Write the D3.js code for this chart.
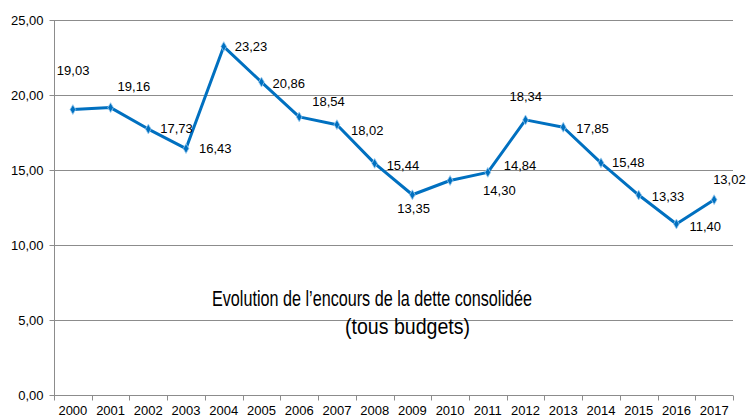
<!DOCTYPE html>
<html>
<head>
<meta charset="utf-8">
<script src="https://cdn.jsdelivr.net/npm/d3@7"></script>
<style>
  body { margin: 0; background: #fff; }
  svg text { font-family: "Liberation Sans", Arial, sans-serif; fill: #000; }
</style>
</head>
<body>
<div id="plotspace"></div>
<script>
var years = ["2000", "2001", "2002", "2003", "2004", "2005", "2006", "2007", "2008",
             "2009", "2010", "2011", "2012", "2013", "2014", "2015", "2016", "2017"];
var encours = [19.03, 19.16, 17.73, 16.43, 23.23, 20.86, 18.54, 18.02, 15.44,
               13.35, 14.30, 14.84, 18.34, 17.85, 15.48, 13.33, 11.40, 13.02];
var yTicks = [0, 5, 10, 15, 20, 25];
var titleLines = ["Evolution de l\u2019encours de la dette consolidée", "(tous budgets)"];

// label placement as set by hand in the original chart (dx from point to label start, dy to label middle)
var labelShift = [[-16, -39], [7, -21], [12, -1], [13, 0], [11, 0], [11, 1], [13, -15], [14, 6], [12, 2],
                  [-15, 14], [33, 10], [16, -7], [-16, -23], [13, 1], [11, 0], [13, 1], [13, 2], [-1, -20]];

var width = 746, height = 418;
var plotL = 54, plotR = 733, plotT = 20, plotB = 395;
var blue = "#0070c0";
var grey = "#8c8c8c";

var fr = d3.formatLocale({decimal: ",", thousands: " ", grouping: [3], currency: ["", " €"]});
var fmt = fr.format(".2f");

var svg = d3.select("#plotspace").append("svg")
    .attr("width", width).attr("height", height);

var x = d3.scaleBand().domain(years).range([plotL, plotR]);
var y = d3.scaleLinear().domain([0, 25]).range([plotB, plotT]);

// grid
svg.append("g").selectAll("line")
    .data(yTicks.slice(1))
    .enter().append("line")
    .attr("x1", plotL).attr("x2", plotR)
    .attr("y1", function(d) { return Math.round(y(d)) + 0.5; })
    .attr("y2", function(d) { return Math.round(y(d)) + 0.5; })
    .attr("stroke", grey).attr("stroke-width", 1);

// y axis
var yAxis = d3.axisLeft(y).tickValues(yTicks).tickSize(5).tickPadding(6).tickFormat(fmt);
var gy = svg.append("g").attr("transform", "translate(" + (plotL + 0.5) + ",0)").call(yAxis);
gy.select(".domain").attr("stroke", grey).attr("d", "M0," + plotT + "V" + plotB);
gy.selectAll(".tick line").attr("stroke", grey);
gy.selectAll(".tick text").attr("font-size", 13).attr("font-family", "Liberation Sans, Arial, sans-serif").attr("fill", "#000");

// x axis with ticks between categories
var xAxis = d3.axisBottom(x).tickSize(0).tickPadding(10);
var gx = svg.append("g").attr("transform", "translate(0," + (plotB + 0.5) + ")").call(xAxis);
gx.select(".domain").attr("stroke", grey).attr("d", "M" + plotL + ",0H" + plotR);
gx.selectAll(".tick text").attr("font-size", 13).attr("font-family", "Liberation Sans, Arial, sans-serif").attr("fill", "#000");
gx.selectAll("line.sep")
    .data(years.concat(["end"]))
    .enter().append("line")
    .attr("class", "sep")
    .attr("x1", function(d, i) { return Math.round(plotL + i * x.step()) + 0.5; })
    .attr("x2", function(d, i) { return Math.round(plotL + i * x.step()) + 0.5; })
    .attr("y1", 0).attr("y2", 5)
    .attr("stroke", grey);

// series line
var cx = function(d, i) { return x(years[i]) + x.bandwidth() / 2; };
var line = d3.line()
    .x(function(d, i) { return cx(d, i); })
    .y(function(d) { return y(d); });
svg.append("path")
    .datum(encours)
    .attr("d", line)
    .attr("fill", "none")
    .attr("stroke", blue)
    .attr("stroke-width", 3)
    .attr("stroke-linejoin", "round");

// markers
var diamond = d3.symbol().type(d3.symbolDiamond).size(28);
svg.append("g").selectAll("path")
    .data(encours)
    .enter().append("path")
    .attr("d", diamond)
    .attr("transform", function(d, i) { return "translate(" + cx(d, i) + "," + y(d) + ")"; })
    .attr("fill", blue)
    .attr("stroke", "#9ccbf0")
    .attr("stroke-width", 0.8);

// data labels
svg.append("g").selectAll("text")
    .data(encours)
    .enter().append("text")
    .attr("x", function(d, i) { return cx(d, i) + labelShift[i][0]; })
    .attr("y", function(d, i) { return y(d) + labelShift[i][1]; })
    .attr("dy", "0.35em")
    .attr("font-size", 13)
    .text(function(d) { return fmt(d); });

// title inside the plot
svg.append("text")
    .attr("x", 212).attr("y", 306)
    .attr("font-size", 22.5)
    .attr("font-family", "Liberation Sans Narrow, Arial Narrow, Liberation Sans, sans-serif")
    .attr("textLength", 320).attr("lengthAdjust", "spacingAndGlyphs")
    .text(titleLines[0]);
svg.append("text")
    .attr("x", 345).attr("y", 334)
    .attr("font-size", 22.5)
    .attr("font-family", "Liberation Sans Narrow, Arial Narrow, Liberation Sans, sans-serif")
    .attr("textLength", 125).attr("lengthAdjust", "spacingAndGlyphs")
    .text(titleLines[1]);
</script>
</body>
</html>
